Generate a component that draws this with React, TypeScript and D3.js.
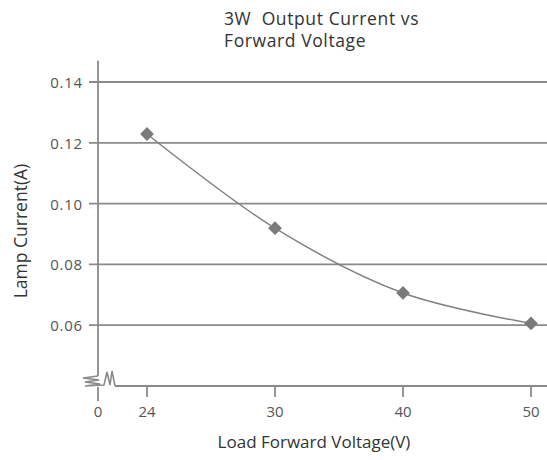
import { useMemo } from "react";
import * as d3 from "d3";

const voltages = ["24", "30", "40", "50"];
const currents = [0.1229, 0.0919, 0.0706, 0.0606];
const yTicks = [0.06, 0.08, 0.1, 0.12, 0.14];
const titleLines = ["3W  Output Current vs", "Forward Voltage"];

const WIDTH = 547;
const HEIGHT = 460;
const AXIS_X = 98;
const AXIS_Y = 386;
const LINE = "#8a8a8a";
const TEXT = "#555";
const FONT = "'Open Sans', 'Noto Sans', sans-serif";

export default function App() {
  const x = useMemo(() => d3.scalePoint<string>().domain(voltages).range([147, 531]), []);
  const y = useMemo(() => d3.scaleLinear().domain([0.04, 0.14]).range([AXIS_Y, 82]), []);

  const points = voltages.map((v, i) => [x(v) ?? 0, y(currents[i])] as [number, number]);
  const curve = d3.line().curve(d3.curveCatmullRom.alpha(0.5))(points) ?? "";
  const diamond = d3.symbol().type(d3.symbolSquare).size(95)() ?? "";

  return (
    <svg
      width={WIDTH}
      height={HEIGHT}
      style={{ position: "absolute", left: 0, top: 0, background: "#fff" }}
      fontFamily={FONT}
    >
      {/* title */}
      <text
        x={224}
        y={25}
        fontSize={17.5}
        letterSpacing={0.6}
        fill="#333"
        style={{ whiteSpace: "pre" }}
      >
        {titleLines.map((t, i) => (
          <tspan key={t} x={224} dy={i === 0 ? 0 : 22}>
            {t}
          </tspan>
        ))}
      </text>

      {/* grid + y ticks */}
      {yTicks.map((t) => (
        <g key={t}>
          <line x1={89} x2={WIDTH} y1={y(t)} y2={y(t)} stroke={LINE} strokeWidth={1.8} />
          <text
            x={83}
            y={y(t)}
            textAnchor="end"
            dominantBaseline="central"
            fontSize={15}
            letterSpacing={0.8}
            fill={TEXT}
          >
            {t.toFixed(2)}
          </text>
        </g>
      ))}

      {/* y axis with break */}
      <line x1={AXIS_X} x2={AXIS_X} y1={y(0.147)} y2={376} stroke={LINE} strokeWidth={1.8} />
      <line x1={AXIS_X} x2={AXIS_X} y1={387} y2={401} stroke={LINE} strokeWidth={1.8} />
      <path
        d="M98,376 L83,378 L99,380 L85,382 L100,384 L85,386 L104,385 L107,372 L110,385 L112,371 L115,386"
        fill="none"
        stroke={LINE}
        strokeWidth={1.6}
        strokeLinejoin="miter"
      />

      {/* x axis */}
      <line x1={115} x2={WIDTH} y1={AXIS_Y} y2={AXIS_Y} stroke={LINE} strokeWidth={1.8} />
      {voltages.map((v) => (
        <g key={v} transform={`translate(${x(v)},0)`}>
          <line y1={AXIS_Y} y2={AXIS_Y + 11} stroke={LINE} strokeWidth={1.8} />
          <text y={411} textAnchor="middle" dominantBaseline="central" fontSize={15} fill={TEXT}>
            {v}
          </text>
        </g>
      ))}
      <text x={AXIS_X} y={411} textAnchor="middle" dominantBaseline="central" fontSize={15} fill={TEXT}>
        0
      </text>

      {/* axis titles */}
      <text x={314} y={441} textAnchor="middle" dominantBaseline="central" fontSize={17} fill="#333">
        Load Forward Voltage(V)
      </text>
      <text
        transform="translate(20,231) rotate(-90)"
        textAnchor="middle"
        dominantBaseline="central"
        fontSize={17.5}
        fill="#333"
      >
        Lamp Current(A)
      </text>

      {/* series */}
      <path d={curve} fill="none" stroke="#808080" strokeWidth={1.5} />
      {points.map(([px, py], i) => (
        <path
          key={voltages[i]}
          d={diamond}
          transform={`translate(${px},${py}) rotate(45)`}
          fill="#7a7a7a"
        />
      ))}
    </svg>
  );
}
